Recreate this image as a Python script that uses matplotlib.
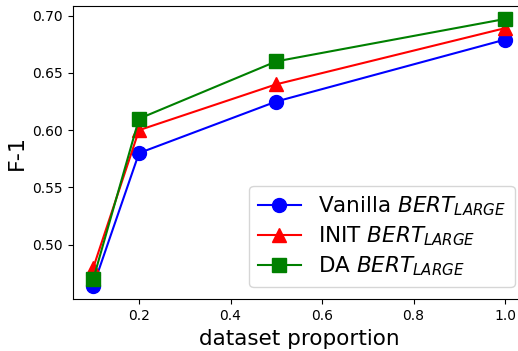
import matplotlib
matplotlib.use("Agg")
import matplotlib.pyplot as plt

proportions = [0.1, 0.2, 0.5, 1.0]
vanilla = [0.464, 0.580, 0.625, 0.679]
init = [0.480, 0.600, 0.640, 0.689]
da = [0.470, 0.610, 0.660, 0.697]
labels = [r"Vanilla $BERT_{LARGE}$", r"INIT $BERT_{LARGE}$", r"DA $BERT_{LARGE}$"]

fig = plt.figure(figsize=(5.18, 3.51), dpi=100)
ax = fig.add_axes([0.1403, 0.147, 0.8745, 0.837])
ax.plot(proportions, vanilla, color="blue", marker="o", markersize=10, linewidth=1.5, label=labels[0])
ax.plot(proportions, init, color="red", marker="^", markersize=10, linewidth=1.5, label=labels[1])
ax.plot(proportions, da, color="green", marker="s", markersize=10, linewidth=1.5, label=labels[2])
ax.set_xlabel("dataset proportion", fontsize=15.5)
ax.set_ylabel("F-1", fontsize=16)
ax.tick_params(labelsize=10)
ax.set_yticks([0.50, 0.55, 0.60, 0.65, 0.70])
ax.set_xticks([0.2, 0.4, 0.6, 0.8, 1.0])
ax.legend(loc="lower right", bbox_to_anchor=(0.976, 0.042), borderaxespad=0,
          fontsize=15.5, labelspacing=0.3)
fig.savefig("out.png", dpi=100)
